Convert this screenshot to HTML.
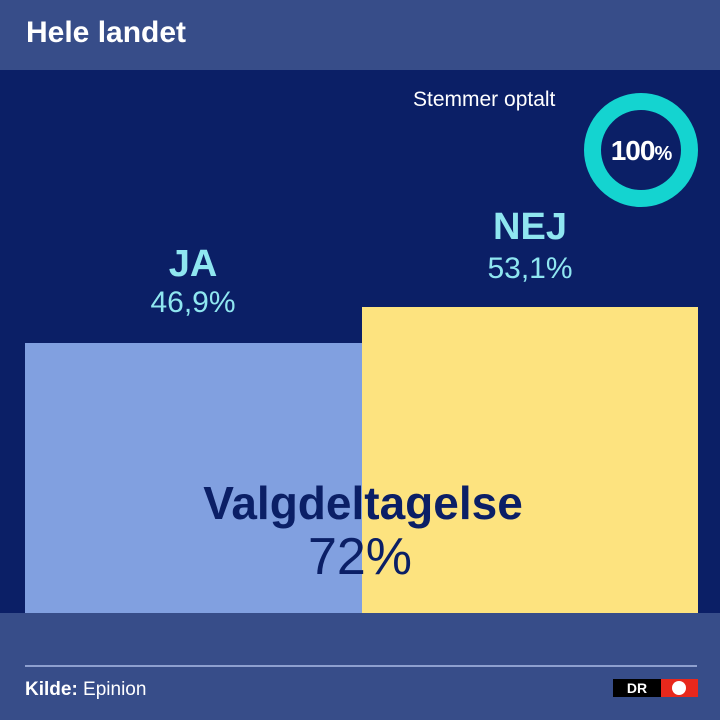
<!DOCTYPE html>
<html><head><style>
body{margin:0;width:720px;height:720px;overflow:hidden;background:#374d89;font-family:"Liberation Sans",sans-serif;position:relative}
div{position:absolute}
</style></head><body>
<div style="left:0;top:0;width:720px;height:70px;background:#374d89"></div>
<div style="left:26px;top:16px;color:#fff;font-weight:bold;font-size:30px">Hele landet</div>
<div style="left:0;top:70px;width:720px;height:543px;background:#0b1f66"></div>
<div style="left:25px;top:343px;width:337px;height:270px;background:#81a0e0"></div>
<div style="left:362px;top:307px;width:336px;height:306px;background:#fde37f"></div>
<div style="left:413px;top:88px;color:#fff;font-size:21px">Stemmer optalt</div>
<div style="left:584px;top:93px;width:80px;height:80px;border:17px solid #14d4d0;border-radius:50%"></div>
<div style="left:584px;top:135px;width:114px;text-align:center;color:#fff;font-weight:bold;font-size:28px;letter-spacing:-1px">100<span style="font-size:20px">%</span></div>
<div style="left:93px;top:243px;width:200px;text-align:center;color:#8fe6f0;font-weight:bold;font-size:38px">JA</div>
<div style="left:93px;top:286px;width:200px;text-align:center;color:#8fe6f0;font-size:30px">46,9%</div>
<div style="left:430px;top:206px;width:200px;text-align:center;color:#8fe6f0;font-weight:bold;font-size:38px">NEJ</div>
<div style="left:430px;top:252px;width:200px;text-align:center;color:#8fe6f0;font-size:30px">53,1%</div>
<div style="left:113px;top:476px;width:500px;text-align:center;color:#0b1f66;font-weight:bold;font-size:46px">Valgdeltagelse</div>
<div style="left:160px;top:527px;width:400px;text-align:center;color:#0b1f66;font-size:52px">72%</div>
<div style="left:25px;top:665px;width:672px;height:2px;background:#8ea0cf"></div>
<div style="left:25px;top:679px;color:#fff;font-size:19px"><b>Kilde:</b> Epinion</div>
<div style="left:613px;top:679px;width:48px;height:18px;background:#000;color:#fff;font-weight:bold;font-size:14px;text-align:center;line-height:18px">DR</div>
<div style="left:661px;top:679px;width:37px;height:18px;background:#e8281c"><div style="left:11px;top:2px;width:14px;height:14px;border-radius:50%;background:#fff"></div></div>
</body></html>
